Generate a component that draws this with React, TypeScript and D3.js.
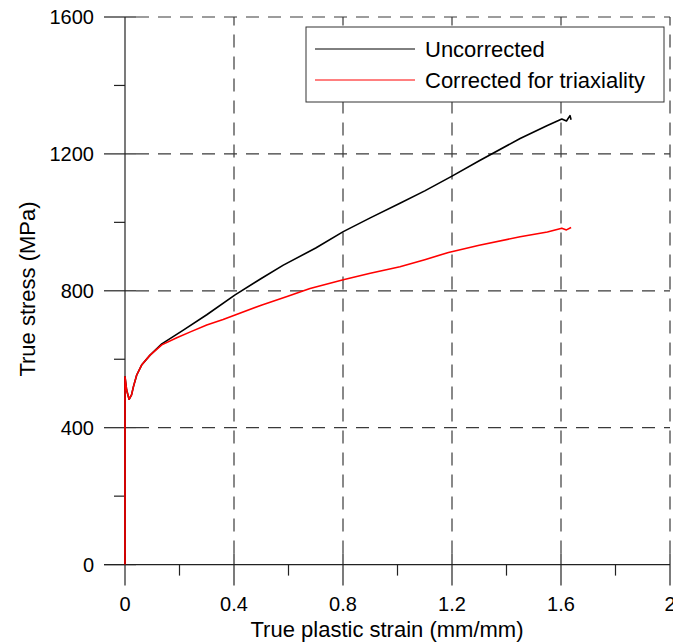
import React from "react";
import * as d3 from "d3";

const uncorrectedStrain = [0, 0, 0.006, 0.015, 0.024, 0.031, 0.043, 0.061, 0.092, 0.135, 0.214, 0.3, 0.404, 0.5, 0.581, 0.7, 0.801, 0.9, 1.009, 1.1, 1.2, 1.3, 1.45, 1.55, 1.603, 1.62, 1.633, 1.637];
const uncorrectedStress = [0, 549, 510, 483, 496, 520, 554, 583, 612, 645, 685, 730, 788, 836, 875, 925, 973, 1013, 1056, 1092, 1135, 1180, 1245, 1283, 1302, 1296, 1312, 1300];

const correctedStrain = [0, 0, 0.006, 0.015, 0.024, 0.031, 0.043, 0.061, 0.092, 0.135, 0.19, 0.24, 0.3, 0.36, 0.404, 0.5, 0.6, 0.679, 0.801, 0.9, 1.009, 1.1, 1.187, 1.3, 1.45, 1.55, 1.603, 1.62, 1.637];
const correctedStress = [0, 549, 510, 483, 496, 520, 554, 583, 612, 642, 663, 680, 700, 716, 729, 758, 785, 807, 832, 851, 870, 891, 912, 933, 958, 972, 983, 978, 985];

const xMajorTicks = [0, 0.4, 0.8, 1.2, 1.6, 2];
const xMinorTicks = [0.2, 0.6, 1.0, 1.4, 1.8];
const yMajorTicks = [0, 400, 800, 1200, 1600];
const yMinorTicks = [200, 600, 1000, 1400];
const seriesNames = ["Uncorrected", "Corrected for triaxiality"];
const seriesColors = ["#000000", "#ff0000"];

const W = 673;
const H = 644;
const FONT = "'Liberation Sans', Arial, sans-serif";

export default function App() {
  const x = d3.scaleLinear().domain([0, 2]).range([125, 670]);
  const y = d3.scaleLinear().domain([0, 1600]).range([564.6, 17]);

  const line = d3
    .line<[number, number]>()
    .x((d) => x(d[0]))
    .y((d) => y(d[1]));

  const black: [number, number][] = uncorrectedStrain.map((s, i) => [s, uncorrectedStress[i]]);
  const red: [number, number][] = correctedStrain.map((s, i) => [s, correctedStress[i]]);

  const gridColor = "#3a3a3a";
  const axisColor = "#222";

  return (
    <svg
      width={W}
      height={H}
      style={{ position: "absolute", left: 0, top: 0, background: "#fff" }}
      fontFamily={FONT}
    >
      <rect x={0} y={0} width={W} height={H} fill="#fff" />
      {/* grid */}
      {yMajorTicks
        .filter((t) => t > 0)
        .map((t) => (
          <line
            key={"gy" + t}
            x1={x(0) + 11}
            x2={x(2)}
            y1={y(t)}
            y2={y(t)}
            stroke={gridColor}
            strokeWidth={1.2}
            strokeDasharray="13,9"
          />
        ))}
      {xMajorTicks
        .filter((t) => t > 0)
        .map((t) => (
          <line
            key={"gx" + t}
            x1={x(t)}
            x2={x(t)}
            y1={y(0) - 11}
            y2={y(1600)}
            stroke={gridColor}
            strokeWidth={1.2}
            strokeDasharray="13,9"
          />
        ))}
      {/* axes */}
      <line x1={x(0)} x2={x(0)} y1={y(0)} y2={y(1600)} stroke={axisColor} strokeWidth={1.2} />
      <line x1={x(0) - 21} x2={x(2)} y1={y(0)} y2={y(0)} stroke={axisColor} strokeWidth={1.2} />
      {yMajorTicks.map((t) => (
        <line key={"ty" + t} x1={x(0) - 21} x2={x(0) + 11} y1={y(t)} y2={y(t)} stroke={axisColor} strokeWidth={1.2} />
      ))}
      {yMinorTicks.map((t) => (
        <line key={"tym" + t} x1={x(0) - 11} x2={x(0)} y1={y(t)} y2={y(t)} stroke={axisColor} strokeWidth={1.2} />
      ))}
      {xMajorTicks.map((t) => (
        <line key={"tx" + t} x1={x(t)} x2={x(t)} y1={y(0) - 11} y2={y(0) + 21} stroke={axisColor} strokeWidth={1.2} />
      ))}
      {xMinorTicks.map((t) => (
        <line key={"txm" + t} x1={x(t)} x2={x(t)} y1={y(0)} y2={y(0) + 11} stroke={axisColor} strokeWidth={1.2} />
      ))}
      {/* tick labels */}
      {yMajorTicks.map((t) => (
        <text key={"ly" + t} x={94} y={y(t) + 7} textAnchor="end" fontSize={20} fill="#000">
          {d3.format("d")(t)}
        </text>
      ))}
      {xMajorTicks.map((t) => (
        <text key={"lx" + t} x={x(t)} y={611} textAnchor="middle" fontSize={20} fill="#000">
          {String(t)}
        </text>
      ))}
      {/* axis titles */}
      <text x={387} y={637} textAnchor="middle" fontSize={22} fill="#000">
        True plastic strain (mm/mm)
      </text>
      <text transform={`translate(35,289) rotate(-90)`} textAnchor="middle" fontSize={22} fill="#000">
        True stress (MPa)
      </text>
      {/* curves */}
      <path d={line(black) || ""} fill="none" stroke={seriesColors[0]} strokeWidth={1.6} strokeLinejoin="round" />
      <path d={line(red) || ""} fill="none" stroke={seriesColors[1]} strokeWidth={1.6} strokeLinejoin="round" />
      {/* legend */}
      <rect x={306} y={27} width={358} height={75} fill="#fff" stroke="#333" strokeWidth={1} />
      {seriesNames.map((n, i) => (
        <g key={n}>
          <line x1={315} x2={415} y1={49 + i * 31} y2={49 + i * 31} stroke={seriesColors[i]} strokeWidth={1} />
          <text x={425} y={57 + i * 30.5} fontSize={22} fill="#000">
            {n}
          </text>
        </g>
      ))}
    </svg>
  );
}
